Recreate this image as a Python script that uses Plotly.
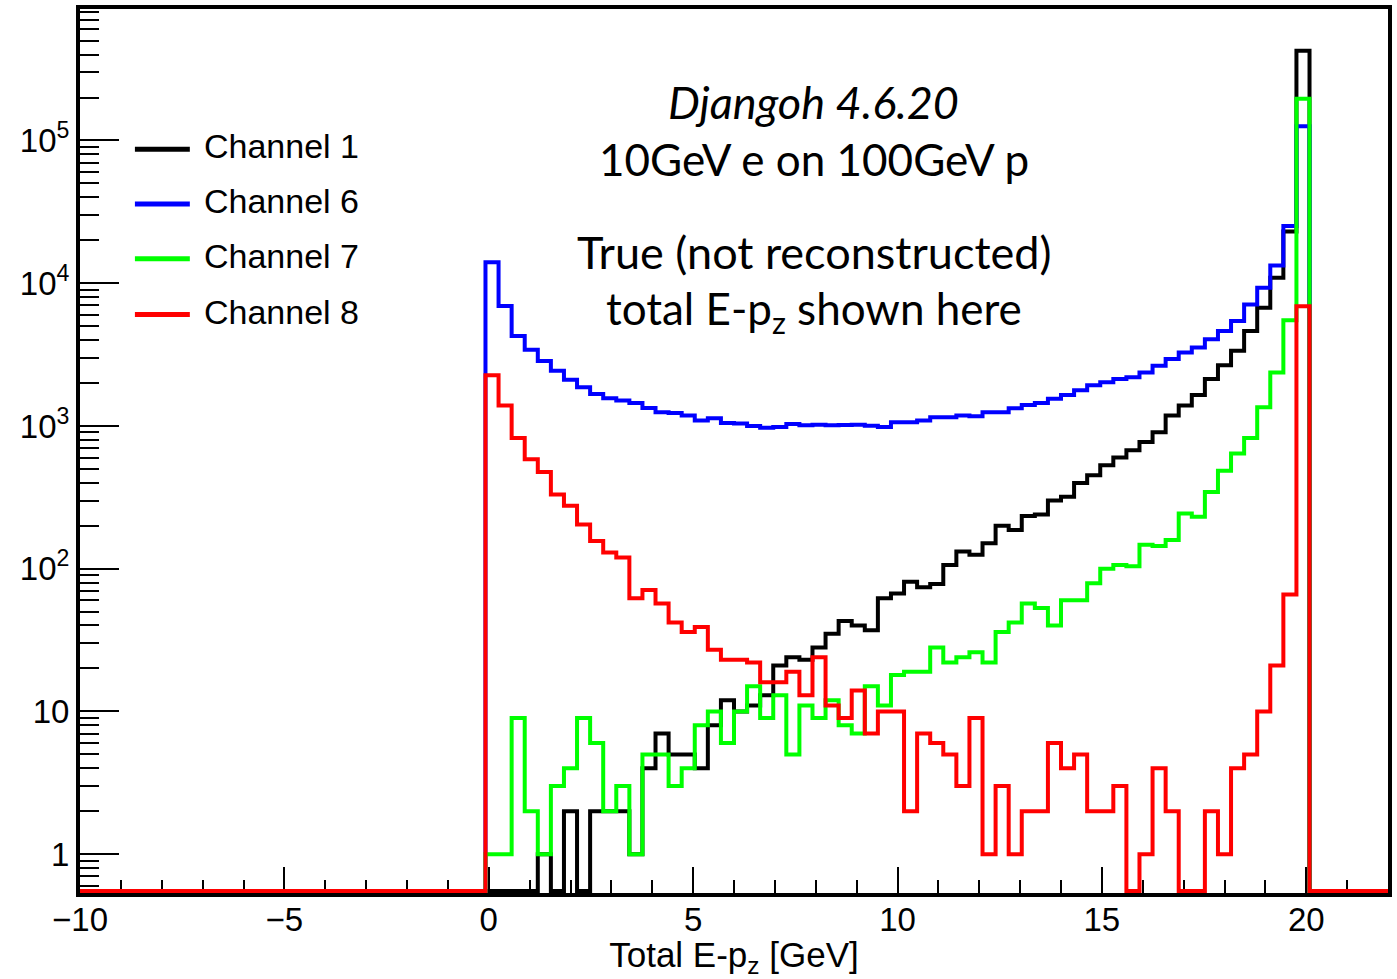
import numpy as np
import plotly.graph_objects as go

# Histogram binning (100 bins from -10 to 22 GeV)
X_MIN, X_MAX, N_BINS = -10.0, 22.0, 100
FIRST_BIN = 31  # first filled bin (left edge -0.08 GeV)

# Bin contents of the filled bins (63 bins, left edges -0.08 ... 19.76 GeV)
ch1 = [0, 0, 0, 0, 1, 0, 2, 0, 2, 2, 2, 1, 4, 7, 5, 5, 4, 8, 12, 10,
       11, 13, 21, 24, 23, 28, 35, 43, 40, 37, 62, 67, 81, 74, 78, 106, 132, 125, 151, 200,
       187, 234, 240, 300, 319, 399, 452, 530, 600, 675, 771, 905, 1183, 1390, 1648, 2130, 2667, 3360, 4630, 6730,
       10900, 23000, 425000]
ch6 = [14000, 6920, 4275, 3413, 2850, 2438, 2108, 1865, 1675, 1563, 1507, 1449, 1337, 1248, 1234, 1183, 1092, 1132, 1050, 1040,
       1000, 970, 985, 1030, 1010, 1020, 1010, 1015, 1020, 1005, 985, 1063, 1063, 1092, 1151, 1151, 1183, 1170, 1248, 1248,
       1331, 1403, 1449, 1550, 1650, 1780, 1927, 2020, 2130, 2190, 2370, 2640, 2940, 3270, 3550, 4050, 4630, 5440, 7100, 9290,
       13300, 25200, 126000]
ch7 = [1, 1, 9, 2, 1, 3, 4, 9, 6, 2, 3, 1, 5, 5, 3, 4, 8, 10, 6, 10,
       15, 9, 13, 5, 11, 9, 12, 8, 7, 15, 11, 18, 19, 19, 28, 22, 24, 26, 22, 36,
       42, 57, 53, 40, 60, 60, 79, 100, 106, 104, 147, 144, 159, 244, 231, 345, 485, 640, 822, 1352,
       2370, 5500, 196000]
ch8 = [2270, 1390, 822, 584, 476, 331, 276, 204, 156, 130, 120, 62, 71, 57, 42, 36, 39, 27, 23, 23,
       22, 16, 16, 19, 13, 24, 11, 9, 14, 7, 10, 10, 2, 7, 6, 5, 3, 9, 1, 3,
       1, 2, 2, 6, 4, 5, 2, 2, 3, 0, 1, 4, 2, 0, 0, 2, 1, 4, 5, 10,
       21, 66, 6900]

series = [("Channel 1", ch1, "#000000"),
          ("Channel 6", ch6, "#0000ff"),
          ("Channel 7", ch7, "#00ff00"),
          ("Channel 8", ch8, "#ff0000")]

LOG_YMIN, LOG_YMAX = -0.272, 5.921
ZERO_DRAW = 10 ** (LOG_YMIN + 0.014)  # empty bins drawn on the frame bottom (ROOT style)

edges = np.linspace(X_MIN, X_MAX, N_BINS + 1)


def full_hist(v):
    arr = np.zeros(N_BINS)
    arr[FIRST_BIN:FIRST_BIN + len(v)] = v
    arr = np.where(arr > 0, arr, ZERO_DRAW)
    return np.append(arr, arr[-1])


fig = go.Figure()
for name, vals, col in series:
    fig.add_trace(go.Scatter(x=edges, y=full_hist(vals), mode="lines", name=name,
                             line=dict(color=col, width=4, shape="hv"), showlegend=False))

W, H = 1397, 979
L, R, T, B = 80, 1390, 5, 893


def px(x):
    return (x - L) / (R - L)


def py(y):
    return (B - y) / (B - T)


# manual ROOT-style legend
leg_y = [146, 201, 256, 312]
shapes = []
annotations = []
for (name, vals, col), yy in zip(series, leg_y):
    shapes.append(dict(type="line", xref="paper", yref="paper", x0=px(135), x1=px(190), y0=py(yy), y1=py(yy),
                       line=dict(color=col, width=5)))
    annotations.append(dict(xref="paper", yref="paper", x=px(202), y=py(yy - 3), xanchor="left", yanchor="middle",
                            text=name, showarrow=False, font=dict(family="Liberation Sans", size=34, color="#000")))

for t, yy, sz in [("<i>Djangoh 4.6.20</i>", 98, 45), ("10GeV e on 100GeV p", 156, 44),
                  ("True (not reconstructed)", 249, 45), ("total E-p<sub>z</sub> shown here", 309, 44)]:
    annotations.append(dict(xref="paper", yref="paper", x=px(815), y=py(yy), xanchor="center", yanchor="middle",
                            text=t, showarrow=False, font=dict(family="Lato", size=sz, color="#000")))

major_y = [1, 10, 100, 1000, 10000, 100000]
major_y_text = ["1", "10", "10<sup>2</sup>", "10<sup>3</sup>", "10<sup>4</sup>", "10<sup>5</sup>"]
minor_y = [m * 10.0 ** k for k in range(-1, 6) for m in range(2, 10)]
minor_y = [v for v in minor_y if LOG_YMIN < np.log10(v) < LOG_YMAX]

fig.update_layout(
    width=W, height=H,
    margin=dict(l=L, r=W - R, t=T, b=H - B),
    paper_bgcolor="white", plot_bgcolor="white",
    shapes=shapes, annotations=annotations,
    font=dict(family="Liberation Sans", size=33, color="#000"),
)
fig.update_xaxes(range=[X_MIN, X_MAX], showgrid=False, zeroline=False,
                 showline=True, linewidth=4, linecolor="black", mirror=True, layer="below traces",
                 ticks="inside", tickmode="array", tickvals=[-10, -5, 0, 5, 10, 15, 20],
                 ticktext=["\u221210", "\u22125", "0", "5", "10", "15", "20"],
                 ticklen=26, tickwidth=2, tickcolor="black", ticklabelstandoff=-6,
                 minor=dict(tickmode="array", tickvals=[v for v in range(-9, 22) if v % 5 != 0],
                            ticks="inside", ticklen=13, tickwidth=2, tickcolor="black"),
                 tickfont=dict(family="Liberation Sans", size=33),
                 title=dict(text="Total E-p<sub>z</sub> [GeV]", font=dict(family="Liberation Sans", size=35),
                            standoff=4))
fig.update_yaxes(type="log", range=[LOG_YMIN, LOG_YMAX], showgrid=False, zeroline=False,
                 showline=True, linewidth=4, linecolor="black", mirror=True, layer="below traces",
                 ticks="inside", tickmode="array", tickvals=major_y, ticktext=major_y_text,
                 ticklen=39, tickwidth=2, tickcolor="black",
                 minor=dict(tickmode="array", tickvals=minor_y, ticks="inside", ticklen=19,
                            tickwidth=2, tickcolor="black"),
                 tickfont=dict(family="Liberation Sans", size=33))

fig.write_html("out.html")
